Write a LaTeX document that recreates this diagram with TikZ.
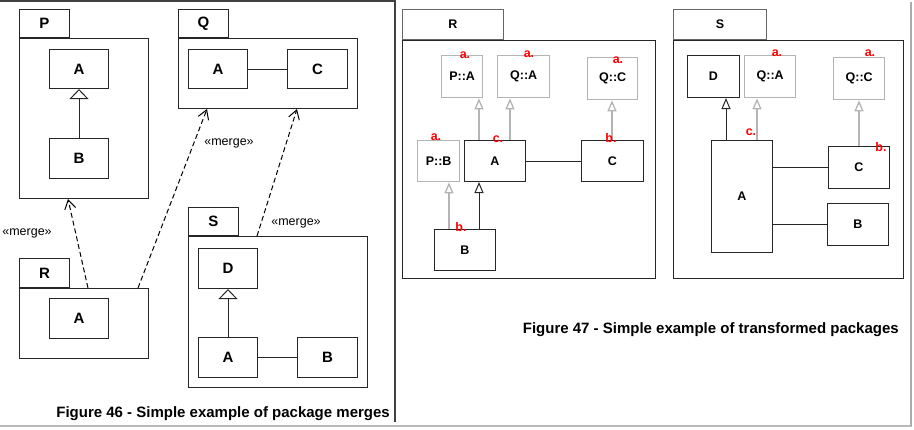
\documentclass[tikz,border=0pt]{standalone}
\usepackage{fontspec}
\setmainfont{Liberation Sans}
\usetikzlibrary{arrows.meta}
\definecolor{frameclr}{HTML}{404040}
\definecolor{ghost}{HTML}{B4B4B4}
\tikzset{
  cls/.style={draw=black!85, line width=1pt, anchor=north west, inner sep=0pt, font=\fontsize{15}{15}\bfseries},
  small/.style={cls, font=\fontsize{12.5}{12.5}\bfseries},
  ghostcls/.style={small, draw=ghost, line width=1.3pt},
  tab/.style={draw=black!85, line width=1pt, anchor=south west, inner sep=0pt, minimum height=28pt, font=\fontsize{15}{15}\bfseries},
  smalltab/.style={tab, minimum height=30pt, draw=black!60, font=\fontsize{12.5}{12.5}\bfseries},
  pkg/.style={draw=black!85, line width=1pt, anchor=north west, inner sep=0pt},
  gen/.style={line width=1pt, black!85, -{Triangle[open,length=10pt,width=19pt]}},
  smallgen/.style={line width=1pt, black!85, -{Triangle[open,length=11pt,width=9pt]}},
  ghostgen/.style={smallgen, draw=ghost, line width=1.3pt},
  merge/.style={line width=1pt, dash pattern=on 5pt off 3pt, -{Straight Barb[length=9pt,width=11pt]}},
  stereo/.style={font=\fontsize{12.5}{12.5}\selectfont, inner sep=0pt},
  tag/.style={text=red, font=\fontsize{12.5}{12.5}\bfseries, inner sep=0pt},
  caption/.style={anchor=east, inner sep=0pt, font=\fontsize{15}{15}\bfseries},
}
\begin{document}
\begin{tikzpicture}[x=1pt, y=-1pt]
  \useasboundingbox (0,0) rectangle (914,429);
  % frames
  \draw[frameclr, line width=2pt] (0,1) -- (395,1) -- (395,422);
  \draw[gray!55, line width=2pt] (0,425.5) -- (912,425.5);
  \draw[gray!65, line width=2pt] (911,2) -- (911,426);

  % Figure 46
  \node[tab, minimum width=50pt] (ptab) at (19,38) {P};
  \node[pkg, minimum width=129pt, minimum height=160pt] (pbody) at (19,38) {};
  \node[cls, minimum width=59pt, minimum height=39pt] (pA) at (49,49) {A};
  \node[cls, minimum width=59pt, minimum height=40pt] (pB) at (49,138) {B};
  \draw[gen] (pB) -- (pA);

  \node[tab, minimum width=50pt] (qtab) at (178,38) {Q};
  \node[pkg, minimum width=179pt, minimum height=70pt] (qbody) at (178,38) {};
  \node[cls, minimum width=59pt, minimum height=39pt] (qA) at (188,49) {A};
  \node[cls, minimum width=60pt, minimum height=39pt] (qC) at (287,49) {C};
  \draw[line width=1pt, black!85] (qA) -- (qC);

  \node[tab, minimum width=50pt, minimum height=29pt] (rtab) at (19,288) {R};
  \node[pkg, minimum width=129pt, minimum height=70pt] (rbody) at (19,288) {};
  \node[cls, minimum width=59pt, minimum height=40pt] (rA) at (49,298) {A};

  \node[tab, minimum width=50pt] (stab) at (188,236) {S};
  \node[pkg, minimum width=179pt, minimum height=151pt] (sbody) at (188,236) {};
  \node[cls, minimum width=59pt, minimum height=40pt] (sD) at (198,248) {D};
  \node[cls, minimum width=59pt, minimum height=40pt] (sA) at (198,337) {A};
  \node[cls, minimum width=60pt, minimum height=40pt] (sB) at (297,337) {B};
  \draw[gen] (sA) -- (sD);
  \draw[line width=1pt, black!85] (sA) -- (sB);

  \draw[merge] ([xshift=69pt]rbody.north west) -- ([xshift=49pt]pbody.south west);
  \draw[merge] ([xshift=119pt]rbody.north west) -- ([xshift=29pt]qbody.south west);
  \draw[merge] ([xshift=69pt]sbody.north west) -- ([xshift=119pt]qbody.south west);
  \node[stereo] (m1) at (27,233) {«merge»};
  \node[stereo] (m2) at (229,143) {«merge»};
  \node[stereo] (m3) at (296,223) {«merge»};

  \node[caption] (cap46) at (390,414) {Figure 46 - Simple example of package merges};

  % Figure 47, package R
  \node[smalltab, minimum width=101pt] (r2tab) at (402,40) {R};
  \node[pkg, minimum width=253pt, minimum height=238pt] (r2body) at (402,40) {};
  \node[ghostcls, minimum width=41pt, minimum height=42pt] (rPA) at (441,55) {P::A};
  \node[ghostcls, minimum width=52pt, minimum height=42pt] (rQA) at (497,55) {Q::A};
  \node[ghostcls, minimum width=50pt, minimum height=42pt] (rQC) at (587,57) {Q::C};
  \node[ghostcls, minimum width=42pt, minimum height=41pt] (rPB) at (417,140) {P::B};
  \node[small, minimum width=61pt, minimum height=41pt] (rA2) at (464,140) {A};
  \node[small, minimum width=62pt, minimum height=41pt] (rC2) at (581,140) {C};
  \node[small, minimum width=61pt, minimum height=41pt] (rB2) at (434,229) {B};
  \draw[ghostgen] (rA2.north -| 479,0) -- (rPA.south -| 479,0);
  \draw[ghostgen] (rA2.north -| 510,0) -- (rQA.south -| 510,0);
  \draw[ghostgen] (rC2.north -| 612,0) -- (rQC.south -| 612,0);
  \draw[ghostgen] (rB2.north -| 449,0) -- (rPB.south -| 449,0);
  \draw[smallgen] (rB2.north -| 479,0) -- (rA2.south -| 479,0);
  \draw[line width=1pt, black!85] (rA2) -- (rC2);
  \node[tag] (t1) at (465,55) {a.};
  \node[tag] (t2) at (529,54) {a.};
  \node[tag] (t3) at (618,60) {a.};
  \node[tag] (t4) at (436,137) {a.};
  \node[tag] (t5) at (498,139) {c.};
  \node[tag] (t6) at (611,138) {b.};
  \node[tag] (t7) at (461,227) {b.};

  % Figure 47, package S
  \node[smalltab, minimum width=93pt] (s2tab) at (673,40) {S};
  \node[pkg, minimum width=230pt, minimum height=238pt] (s2body) at (673,40) {};
  \node[small, minimum width=52pt, minimum height=42pt] (sD2) at (687,55) {D};
  \node[ghostcls, minimum width=51pt, minimum height=42pt] (sQA) at (744,55) {Q::A};
  \node[ghostcls, minimum width=51pt, minimum height=42pt] (sQC) at (833,57) {Q::C};
  \node[small, minimum width=61pt, minimum height=112pt] (sA2) at (711,140) {A};
  \node[small, minimum width=61pt, minimum height=42pt] (sC2) at (828,146) {C};
  \node[small, minimum width=61pt, minimum height=42pt] (sB2) at (827,203) {B};
  \draw[smallgen] (sA2.north -| 726,0) -- (sD2.south -| 726,0);
  \draw[ghostgen] (sA2.north -| 757,0) -- (sQA.south -| 757,0);
  \draw[ghostgen] (sC2.north -| 859,0) -- (sQC.south -| 859,0);
  \draw[line width=1pt, black!85] (sC2.west -| sA2.east) -- (sC2.west);
  \draw[line width=1pt, black!85] (sB2.west -| sA2.east) -- (sB2.west);
  \node[tag] (t8) at (777,53) {a.};
  \node[tag] (t9) at (870,53) {a.};
  \node[tag] (t10) at (751,132) {c.};
  \node[tag] (t11) at (881,147) {b.};

  \node[caption] (cap47) at (899,330) {Figure 47 - Simple example of transformed packages};
\end{tikzpicture}
\end{document}
